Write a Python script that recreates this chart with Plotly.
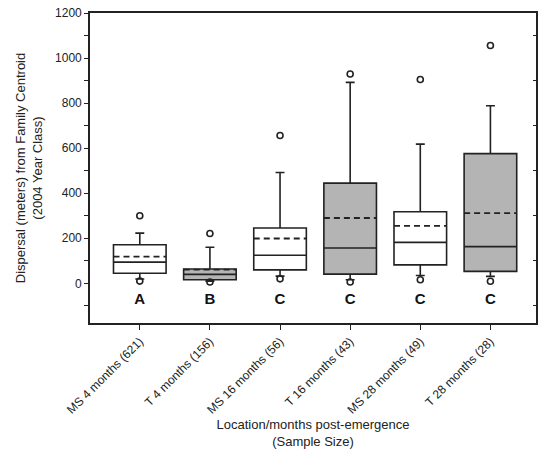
import plotly.graph_objects as go

categories = ["MS 4 months (621)", "T 4 months (156)", "MS 16 months (56)",
              "T 16 months (43)", "MS 28 months (49)", "T 28 months (28)"]
letters = ["A", "B", "C", "C", "C", "C"]
q1 = [45, 16, 60, 41, 82, 53]
median = [94, 40, 125, 157, 182, 163]
q3 = [171, 64, 246, 445, 318, 576]
mean = [119, 61, 199, 290, 255, 312]
lower_whisker = [19, 10, 32, 16, 35, 31]
upper_whisker = [223, 160, 492, 892, 618, 788]
outliers_low = [10, 6, 20, 6, 16, 9]
outliers_high = [300, 221, 656, 929, 905, 1056]
fills = ["white", "#b4b4b4", "white", "#b4b4b4", "white", "#b4b4b4"]

line_col = "#222222"
box_w = 0.75
fig = go.Figure()
for i, cat in enumerate(categories):
    fig.add_trace(go.Box(
        x=[i], q1=[q1[i]], median=[median[i]], q3=[q3[i]],
        lowerfence=[lower_whisker[i]], upperfence=[upper_whisker[i]],
        width=box_w, whiskerwidth=0.17,
        fillcolor=fills[i], line=dict(color=line_col, width=1.6),
        boxpoints=False, showlegend=False, name=cat,
    ))
    # dashed mean line
    fig.add_trace(go.Scatter(
        x=[i - box_w / 2, i + box_w / 2], y=[mean[i], mean[i]], mode="lines",
        line=dict(color=line_col, width=1.8, dash="6px,4px"),
        showlegend=False, hoverinfo="skip"))

xs = list(range(len(categories)))
fig.add_trace(go.Scatter(
    x=xs + xs, y=outliers_low + outliers_high, mode="markers",
    marker=dict(symbol="circle-open", size=6, color=line_col, line=dict(width=1.6)),
    showlegend=False, hoverinfo="skip"))

fig.add_trace(go.Scatter(
    x=xs, y=[-75] * len(xs), mode="text", text=["<b>%s</b>" % t for t in letters],
    textfont=dict(family="Liberation Sans, Arial", size=15, color="#111111"),
    textposition="middle center", showlegend=False, hoverinfo="skip"))

# invisible trace on yaxis2 for the right-hand inward ticks
fig.add_trace(go.Scatter(x=[0], y=[0], yaxis="y2", mode="markers",
                         marker=dict(opacity=0), showlegend=False, hoverinfo="skip"))

yr = [-176, 1200]
fig.update_layout(
    width=544, height=467,
    margin=dict(l=90, r=6, t=10, b=144),
    paper_bgcolor="white", plot_bgcolor="white",
    font=dict(family="Liberation Sans, Arial", size=12, color="#222222"),
    xaxis=dict(
        range=[-0.71, 5.65], tickmode="array", tickvals=xs, ticktext=categories,
        tickangle=-45, ticks="outside", ticklen=5, tickcolor=line_col,
        showline=True, linecolor=line_col, linewidth=1.6, mirror=True,
        showgrid=False, zeroline=False, tickfont=dict(size=12),
        title=dict(text="Location/months post-emergence<br>(Sample Size)",
                   font=dict(size=13), standoff=4),
    ),
    yaxis=dict(
        range=yr, tickmode="array", tickvals=[0, 200, 400, 600, 800, 1000, 1200],
        ticks="outside", ticklen=4, tickcolor=line_col,
        minor=dict(tickvals=[-100, 100, 300, 500, 700, 900, 1100], ticks="outside",
                   ticklen=4, tickcolor=line_col),
        showline=True, linecolor=line_col, linewidth=1.6, mirror=True,
        showgrid=False, zeroline=False, tickfont=dict(size=12),
        title=dict(text="Dispersal (meters) from Family Centroid<br>(2004 Year Class)",
                   font=dict(size=13), standoff=10),
    ),
    yaxis2=dict(
        range=yr, overlaying="y", side="right", tickmode="array",
        tickvals=[-100, 100, 300, 500, 700, 900, 1100], ticks="inside", ticklen=3,
        tickcolor=line_col, showticklabels=False, showgrid=False, zeroline=False,
        showline=False,
    ),
)

fig.write_html("out.html")
